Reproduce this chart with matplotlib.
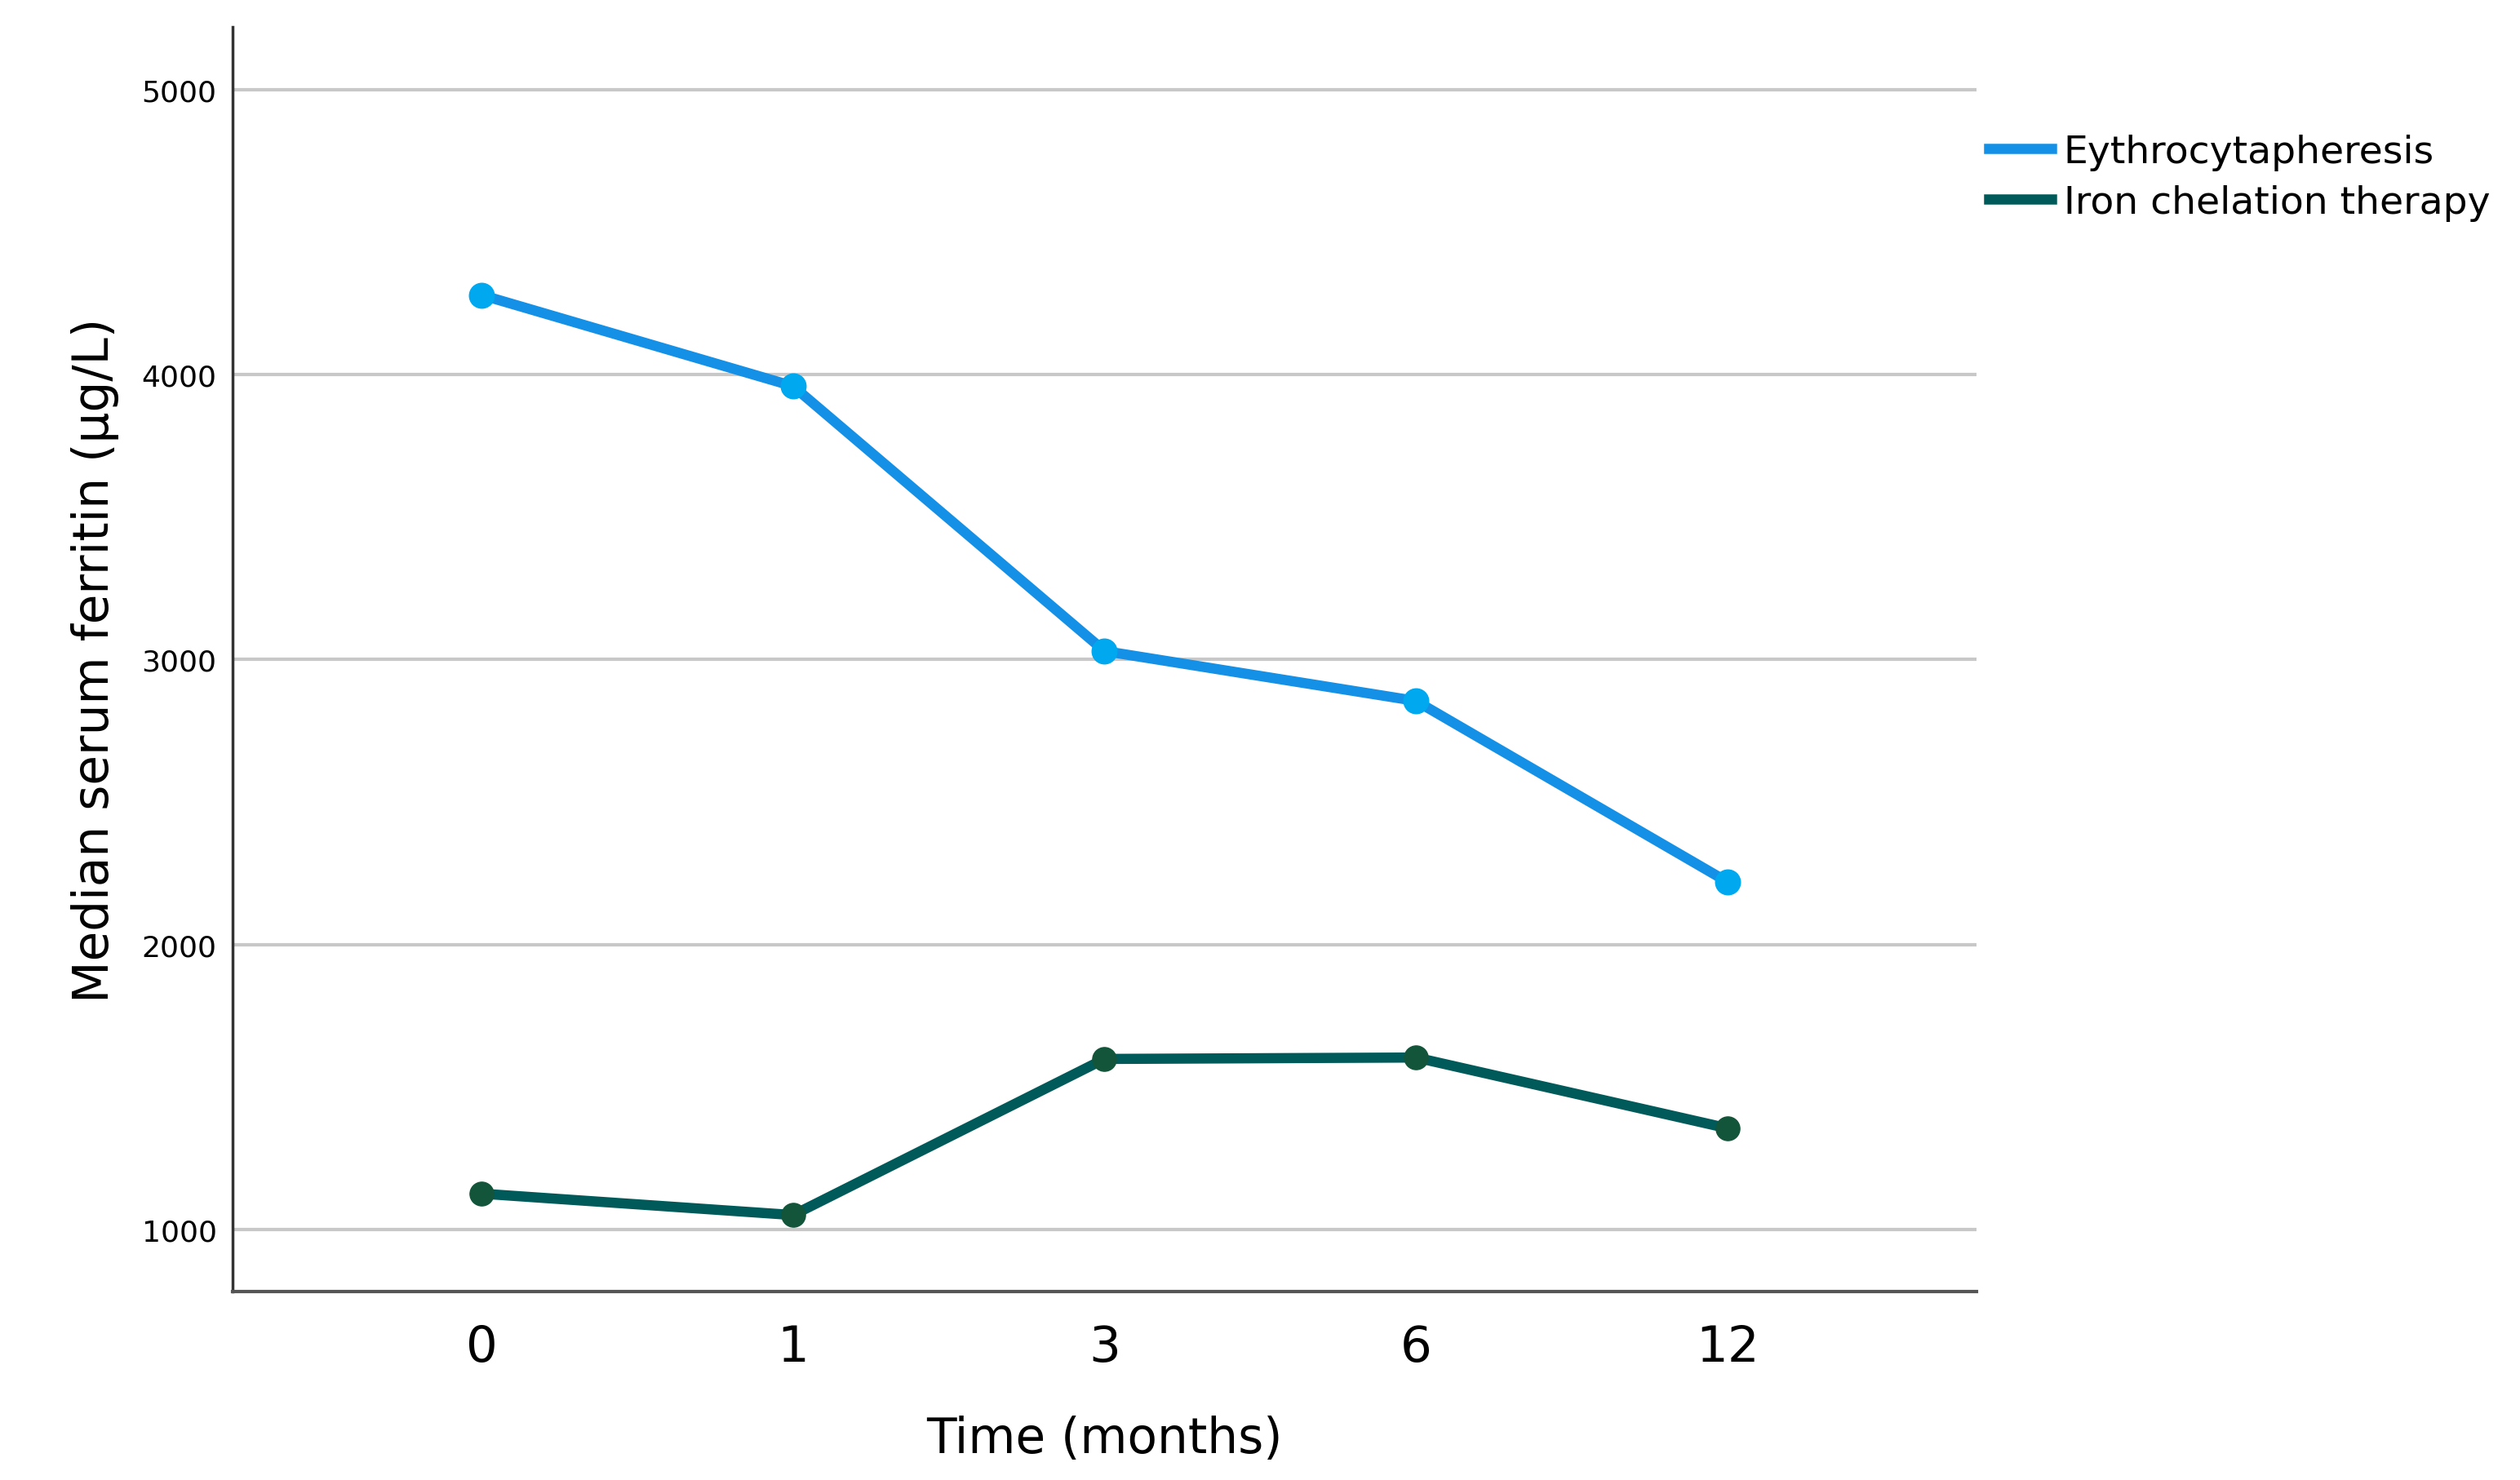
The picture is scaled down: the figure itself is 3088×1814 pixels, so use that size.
import matplotlib
matplotlib.use('Agg')
import matplotlib.pyplot as plt

plt.rcParams['font.family'] = ['DejaVu Sans']

months = ['0', '1', '3', '6', '12']
erythro = [4280, 3960, 3030, 2855, 2220]
chelation = [1125, 1050, 1598, 1603, 1355]
series_names = ['Eythrocytapheresis', 'Iron chelation therapy']

fig = plt.figure(figsize=(30.88, 18.15), dpi=100)
ax = fig.add_axes([0.0923, 0.127, 0.692, 0.854])

xs = range(len(months))
ax.plot(xs, erythro, '-', color='#1490e6', linewidth=9, label=series_names[0], zorder=3)
ax.plot(xs, erythro, 'o', color='#00a8ef', markersize=22, zorder=4)
ax.plot(xs, chelation, '-', color='#005a5a', linewidth=9, label=series_names[1], zorder=3)
ax.plot(xs, chelation, 'o', color='#13553a', markersize=21, zorder=4)

ax.set_xlim(-0.8, 4.8)
ax.set_ylim(780, 5220)
ax.set_xticks(list(xs))
ax.set_xticklabels(months)
ax.set_yticks([1000, 2000, 3000, 4000, 5000])
ax.yaxis.grid(True, color='#c8c8c8', linewidth=3)
ax.set_axisbelow(True)
ax.tick_params(axis='x', length=0, labelsize=44, pad=28)
ax.tick_params(axis='y', length=0, labelsize=26, pad=14)

for s in ['top', 'right']:
    ax.spines[s].set_visible(False)
ax.spines['left'].set_color('#333333')
ax.spines['left'].set_linewidth(2.5)
ax.spines['bottom'].set_color('#555555')
ax.spines['bottom'].set_linewidth(3)

ax.set_xlabel('Time (months)', fontsize=43, labelpad=38)
ax.set_ylabel('Median serum ferritin (μg/L)', fontsize=43, labelpad=20)

ax.legend(loc='upper left', bbox_to_anchor=(0.998, 0.928), frameon=False,
          fontsize=34, handlelength=1.65, handletextpad=0.3, labelspacing=0.35,
          borderaxespad=0)

fig.savefig('out.png', dpi=100)
